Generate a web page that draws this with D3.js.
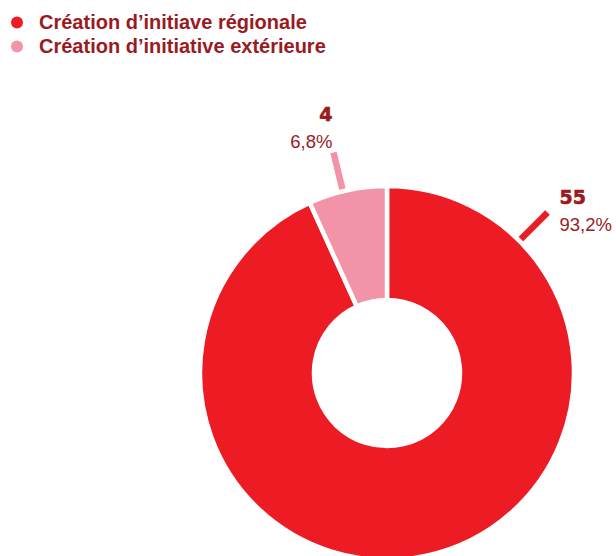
<!DOCTYPE html>
<html>
<head>
<meta charset="utf-8">
<script src="https://cdn.jsdelivr.net/npm/d3@7"></script>
<style>
  body { margin: 0; background: #fff; }
  svg { display: block; }
</style>
</head>
<body>
<script>
// Data
const categories = ["Création d’initiave régionale", "Création d’initiative extérieure"];
const counts = [55, 4];
const percents = ["93,2%", "6,8%"];
const colors = ["#ed1c24", "#f393a7"];

const data = categories.map((c, i) => ({ key: c, value: counts[i], pct: percents[i], color: colors[i] }));

const width = 616;
const height = 556;
const textColor = "#9b1a1f";

const svg = d3.select("body").append("svg")
    .attr("width", width)
    .attr("height", height);

// Legend
const legend = svg.append("g").attr("transform", "translate(17,0)");
const items = legend.selectAll("g")
    .data(data)
    .enter()
    .append("g")
    .attr("transform", (d, i) => `translate(0,${29 + i * 24})`);

items.append("circle")
    .attr("cx", 0)
    .attr("cy", -6.5)
    .attr("r", 6)
    .attr("fill", d => d.color);

items.append("text")
    .attr("x", 22)
    .attr("y", 0)
    .style("font-family", "'Liberation Sans', Arial, sans-serif")
    .style("font-weight", "bold")
    .style("font-size", "20px")
    .style("fill", textColor)
    .text(d => d.key);

// Donut
const cx = 387, cy = 373;
const outerR = 187, innerR = 73;

const g = svg.append("g").attr("transform", `translate(${cx},${cy})`);

const pie = d3.pie()
    .value(d => d.value)
    .sort(null);

const arc = d3.arc()
    .innerRadius(innerR)
    .outerRadius(outerR);

const arcs = pie(data);

// the big slice's label goes to the upper right, the small one along its middle
const leaderAngle = d => (d.endAngle - d.startAngle > Math.PI) ? Math.PI / 4 : (d.startAngle + d.endAngle) / 2 - 0.025;
const polar = (a, r) => [Math.sin(a) * r, -Math.cos(a) * r];
const onRight = d => polar(leaderAngle(d), 1)[0] > 0;

g.selectAll("line.leader")
    .data(arcs)
    .enter()
    .append("line")
    .attr("class", "leader")
    .attr("x1", d => polar(leaderAngle(d), 170)[0])
    .attr("y1", d => polar(leaderAngle(d), 170)[1])
    .attr("x2", d => polar(leaderAngle(d), 227)[0])
    .attr("y2", d => polar(leaderAngle(d), 227)[1])
    .attr("stroke", d => d.data.color)
    .attr("stroke-width", 6.5);

g.selectAll("path")
    .data(arcs)
    .enter()
    .append("path")
    .attr("d", arc)
    .attr("fill", d => d.data.color)
    .attr("stroke", "#fff")
    .attr("stroke-width", 4.5);

// Labels
const labels = g.selectAll("g.label")
    .data(arcs)
    .enter()
    .append("g")
    .attr("class", "label")
    .attr("transform", d => {
        const [x, y] = polar(leaderAngle(d), 227);
        return `translate(${x},${y})`;
    });

labels.append("text")
    .attr("x", d => onRight(d) ? 12 : -1)
    .attr("y", d => onRight(d) ? -8 : -31)
    .attr("text-anchor", d => onRight(d) ? "start" : "end")
    .style("font-family", "'DejaVu Sans', sans-serif")
    .style("font-weight", "bold")
    .style("font-size", "19px")
    .style("fill", textColor)
    .style("stroke", textColor)
    .style("stroke-width", 0.6)
    .text(d => d.data.value);

labels.append("text")
    .attr("x", d => onRight(d) ? 12 : -1)
    .attr("y", d => onRight(d) ? 19 : -4)
    .attr("text-anchor", d => onRight(d) ? "start" : "end")
    .style("font-family", "'Liberation Sans', Arial, sans-serif")
    .style("font-size", "18.5px")
    .style("fill", textColor)
    .text(d => d.data.pct);
</script>
</body>
</html>
